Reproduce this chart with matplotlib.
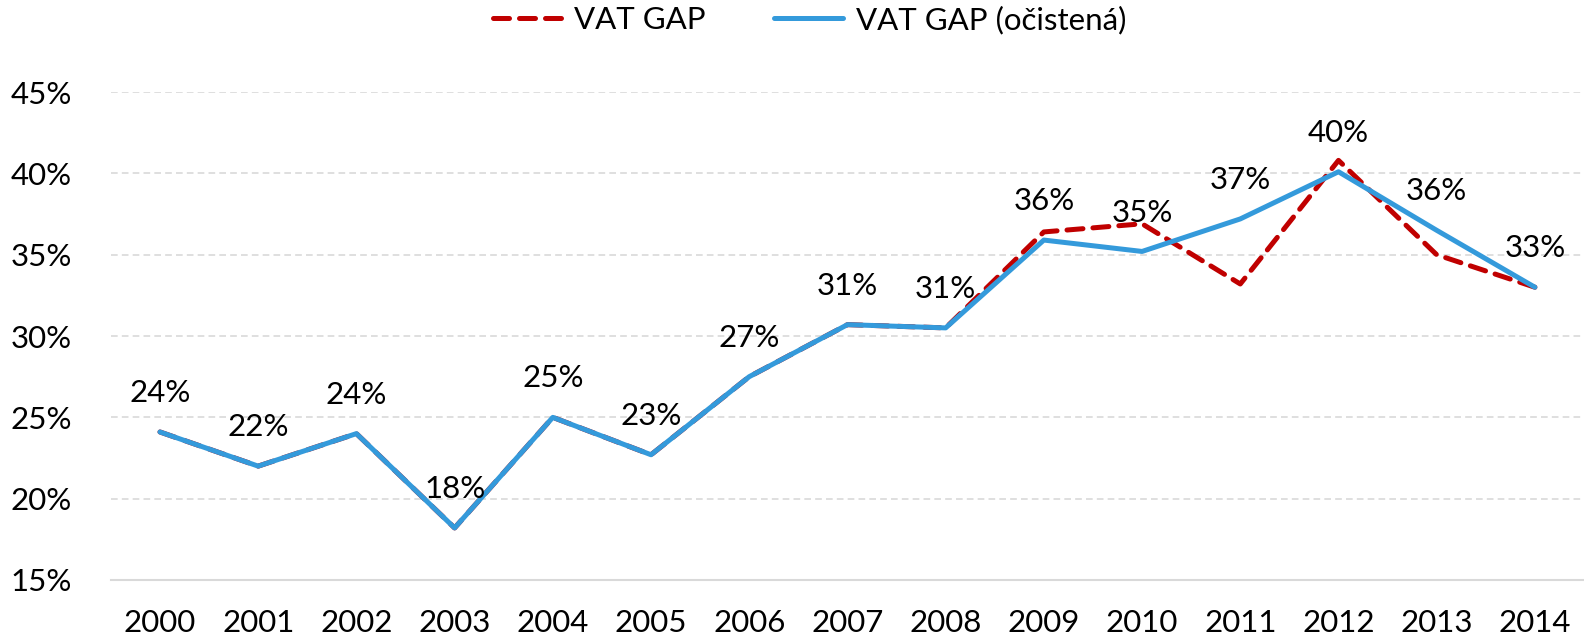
import matplotlib
matplotlib.use("Agg")
import matplotlib.pyplot as plt
import numpy as np

plt.rcParams['font.family'] = ['Lato', 'DejaVu Sans']

years = ['2000', '2001', '2002', '2003', '2004', '2005', '2006', '2007',
         '2008', '2009', '2010', '2011', '2012', '2013', '2014']
vat_gap = [24.1, 22.0, 24.0, 18.2, 25.0, 22.7, 27.5, 30.7,
           30.5, 36.4, 36.9, 33.2, 40.8, 35.0, 33.0]
vat_gap_clean = [24.1, 22.0, 24.0, 18.2, 25.0, 22.7, 27.5, 30.7,
                 30.5, 35.9, 35.2, 37.2, 40.1, 36.5, 33.0]
label_text = ['24%', '22%', '24%', '18%', '25%', '23%', '27%', '31%',
              '31%', '36%', '35%', '37%', '40%', '36%', '33%']
yticks = [15, 20, 25, 30, 35, 40, 45]

red = '#C00000'
blue = '#349ADB'
fs = 22.5

fig = plt.figure(figsize=(15.84, 6.42), dpi=100)
ax = fig.add_axes([0.070, 0.0966, 0.930, 0.760])

x = np.arange(len(years))
ax.plot(x, vat_gap, color=red, lw=3.6, ls=(0, (3.2, 2.0)),
        solid_capstyle='round', dash_capstyle='round', label='VAT GAP', zorder=3)
ax.plot(x, vat_gap_clean, color=blue, lw=3.6, solid_capstyle='round',
        label='VAT GAP (očistená)', zorder=4)

for xi, yi, t in zip(x, vat_gap_clean, label_text):
    ax.annotate(t, (xi, yi), xytext=(0, 28), textcoords='offset points',
                ha='center', va='center', fontsize=fs, color='black', zorder=5)

ax.set_xlim(-0.5, len(years) - 0.5)
ax.set_ylim(15, 45)
ax.set_xticks(x)
ax.set_xticklabels(years, fontsize=fs)
ax.set_yticks(yticks)
ax.set_yticklabels([f'{v}%' for v in yticks], fontsize=fs)
ax.tick_params(length=0)
ax.tick_params(axis='x', pad=21)
ax.tick_params(axis='y', pad=28)

for v in yticks[1:]:
    ax.axhline(v, color='#D9D9D9', lw=1.2, ls=(0, (4, 2.5)), zorder=1)
for s in ['top', 'right', 'left']:
    ax.spines[s].set_visible(False)
ax.spines['bottom'].set_color('#D9D9D9')
ax.spines['bottom'].set_linewidth(1.5)

leg = fig.legend(loc='upper center', bbox_to_anchor=(0.511, 1.035), ncol=2,
                 frameon=False, fontsize=fs, handlelength=2.2,
                 columnspacing=2.2, handletextpad=0.4)

fig.savefig('out.png', dpi=100)
